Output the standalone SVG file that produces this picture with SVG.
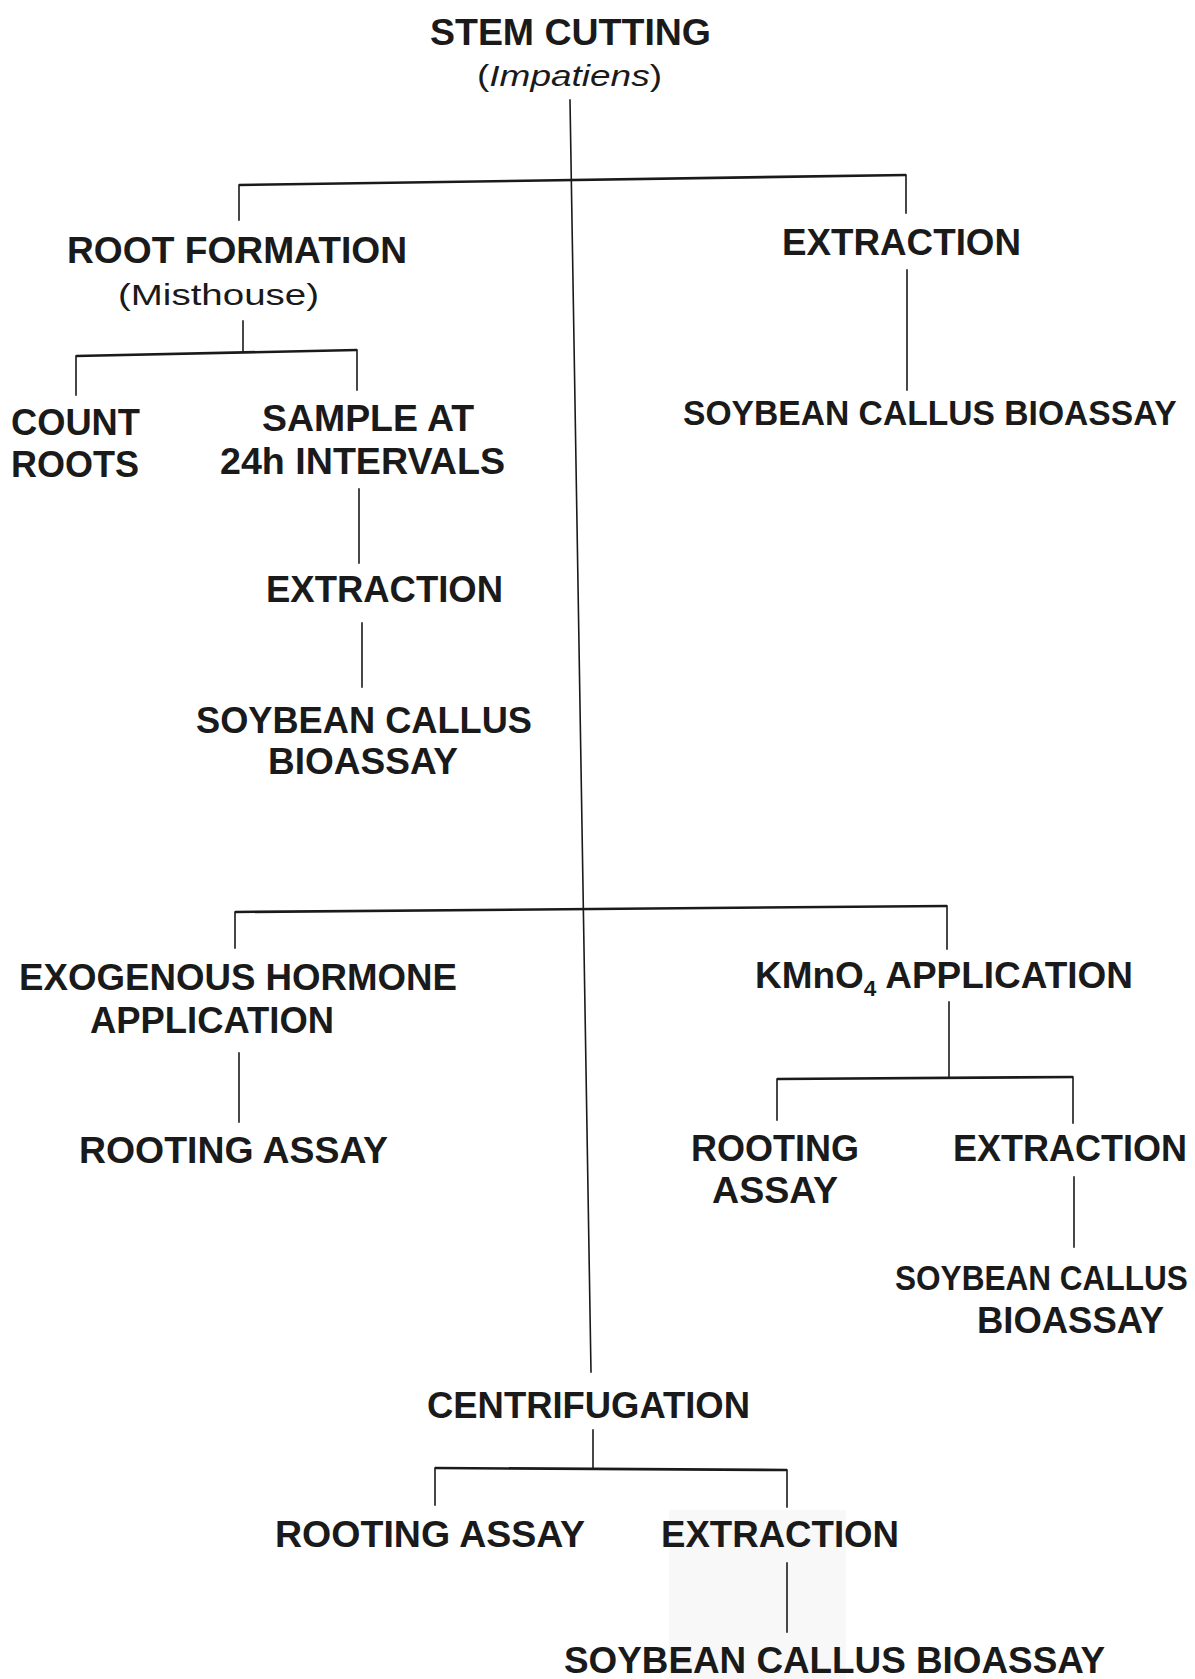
<svg xmlns="http://www.w3.org/2000/svg" width="1195" height="1679" viewBox="0 0 1195 1679">
<style>
.t{font-family:"Liberation Sans",Arial,sans-serif;font-weight:bold;font-size:36px;fill:#1a1a1a}
.s{font-family:"Liberation Sans",Arial,sans-serif;font-weight:normal;font-size:30px;fill:#1a1a1a}
.c{stroke:#1a1a1a;stroke-width:1.6;fill:none;stroke-linecap:square}
.b{stroke:#1a1a1a;stroke-width:2.6;fill:none}
</style>
<rect width="1195" height="1679" fill="#ffffff"/>
<rect x="669" y="1510" width="177" height="169" fill="#f8f8f8"/>
<g id="connectors">
<path class="c" d="M570 100 L591 1372"/>
<path class="b" d="M239 185 L906 175"/>
<path class="c" d="M239 185 V220 M906 175 V213"/>
<path class="c" d="M907 270 V390"/>
<path class="c" d="M243 321 V352"/>
<path class="b" d="M76 356 L357 350"/>
<path class="c" d="M76 356 V395 M357 350 V390"/>
<path class="c" d="M359 489 V563"/>
<path class="c" d="M362 623 V687"/>
<path class="b" d="M235 912 L947 906"/>
<path class="c" d="M235 912 V948 M947 906 V949"/>
<path class="c" d="M239 1053 V1122"/>
<path class="c" d="M949 1002 V1078"/>
<path class="b" d="M777 1079 L1073 1077"/>
<path class="c" d="M777 1079 V1120 M1073 1077 V1123"/>
<path class="c" d="M1074 1177 V1247"/>
<path class="c" d="M593 1430 V1468"/>
<path class="b" d="M435 1468 L787 1470"/>
<path class="c" d="M435 1468 V1505 M787 1470 V1507"/>
<path class="c" d="M787 1563 V1632"/>
</g>
<g id="stem-cutting">
<text class="t" x="430" y="45" textLength="281" lengthAdjust="spacingAndGlyphs">STEM CUTTING</text>
<text class="s" x="477" y="86" textLength="185" lengthAdjust="spacingAndGlyphs">(<tspan font-style="italic">Impatiens</tspan>)</text>
</g>
<g id="root-formation">
<text class="t" x="67" y="263" textLength="340" lengthAdjust="spacingAndGlyphs">ROOT FORMATION</text>
<text class="s" x="118" y="305" textLength="201" lengthAdjust="spacingAndGlyphs">(Misthouse)</text>
</g>
<g id="extraction-top">
<text class="t" x="782" y="255" textLength="239" lengthAdjust="spacingAndGlyphs">EXTRACTION</text>
</g>
<g id="soybean-top">
<text class="t" transform="translate(683 425) scale(0.934 1)" x="0" y="0">SOYBEAN CALLUS BIOASSAY</text>
</g>
<g id="count-roots">
<text class="t" x="11" y="435" textLength="129" lengthAdjust="spacingAndGlyphs">COUNT</text>
<text class="t" x="11" y="477" textLength="128" lengthAdjust="spacingAndGlyphs">ROOTS</text>
</g>
<g id="sample">
<text class="t" x="262" y="431" textLength="212" lengthAdjust="spacingAndGlyphs">SAMPLE AT</text>
<text class="t" x="220" y="474" textLength="285" lengthAdjust="spacingAndGlyphs">24h INTERVALS</text>
</g>
<g id="extraction-mid">
<text class="t" x="266" y="602" textLength="237" lengthAdjust="spacingAndGlyphs">EXTRACTION</text>
</g>
<g id="soybean-mid">
<text class="t" x="196" y="733" textLength="336" lengthAdjust="spacingAndGlyphs">SOYBEAN CALLUS</text>
<text class="t" x="268" y="774" textLength="190" lengthAdjust="spacingAndGlyphs">BIOASSAY</text>
</g>
<g id="exogenous">
<text class="t" x="19" y="990" textLength="438" lengthAdjust="spacingAndGlyphs">EXOGENOUS HORMONE</text>
<text class="t" x="90" y="1033" textLength="244" lengthAdjust="spacingAndGlyphs">APPLICATION</text>
</g>
<g id="rooting-left">
<text class="t" x="79" y="1163" textLength="309" lengthAdjust="spacingAndGlyphs">ROOTING ASSAY</text>
</g>
<g id="kmno4">
<text class="t" x="755" y="988" textLength="378" lengthAdjust="spacingAndGlyphs">KMnO<tspan font-size="22" dy="8">4</tspan><tspan dy="-8"> APPLICATION</tspan></text>
</g>
<g id="rooting-right">
<text class="t" x="691" y="1161" textLength="168" lengthAdjust="spacingAndGlyphs">ROOTING</text>
<text class="t" x="712" y="1203" textLength="126" lengthAdjust="spacingAndGlyphs">ASSAY</text>
</g>
<g id="extraction-right">
<text class="t" x="953" y="1161" textLength="234" lengthAdjust="spacingAndGlyphs">EXTRACTION</text>
</g>
<g id="soybean-right">
<text class="t" transform="translate(895 1290) scale(0.877 1)" x="0" y="0">SOYBEAN CALLUS</text>
<text class="t" x="977" y="1333" textLength="187" lengthAdjust="spacingAndGlyphs">BIOASSAY</text>
</g>
<g id="centrifugation">
<text class="t" x="427" y="1418" textLength="323" lengthAdjust="spacingAndGlyphs">CENTRIFUGATION</text>
</g>
<g id="rooting-bottom">
<text class="t" x="275" y="1547" textLength="310" lengthAdjust="spacingAndGlyphs">ROOTING ASSAY</text>
</g>
<g id="extraction-bottom">
<text class="t" x="661" y="1547" textLength="238" lengthAdjust="spacingAndGlyphs">EXTRACTION</text>
</g>
<g id="soybean-bottom">
<text class="t" x="564" y="1673" textLength="541" lengthAdjust="spacingAndGlyphs">SOYBEAN CALLUS BIOASSAY</text>
</g>
</svg>
